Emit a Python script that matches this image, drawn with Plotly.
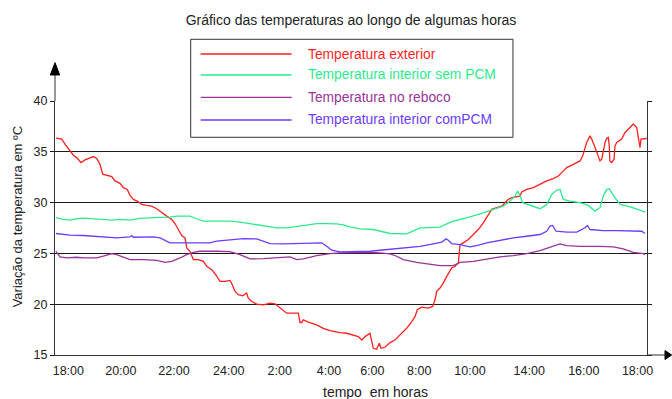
import plotly.graph_objects as go

# Reading position along the time axis (0 = start of record, 100 = end of record)
ext_x = [0.2, 1.13, 1.69, 2.53, 3.09, 3.67, 4.39, 5.07, 5.63, 6.47, 7.04, 7.6, 8.06, 8.73, 9.58,
         10.14, 10.98, 11.54, 12.21, 12.67, 13.23, 13.9, 14.65, 15.49, 16.33, 17.18, 18.02, 18.87,
         19.71, 20.27, 20.83, 21.4, 21.96, 22.13, 22.25, 22.8, 23.36, 24.21, 25.05, 25.63, 26.47,
         27.15, 27.87, 28.72, 29.56, 29.95, 30.41, 30.96, 31.71, 32.38, 32.65, 33.23, 34.07, 35.19,
         36.32, 37.16, 38.01, 39.14, 40.25, 41.1, 41.39, 41.67, 41.94, 42.79, 44.21, 45.32, 46.45,
         47.59, 48.14, 49.27, 50.39, 51.24, 51.81, 52.37, 53.21, 53.5, 53.77, 54.34, 54.78, 55.07,
         55.74, 56.59, 57.43, 58.28, 59.41, 60.26, 60.81, 61.2, 61.94, 63.06, 63.8, 64.19, 64.48,
         65.03, 65.59, 66.17, 67.01, 67.57, 68.13, 68.24, 68.41, 68.97, 69.82, 70.66, 71.5, 72.35,
         73.19, 73.77, 74.61, 75.46, 76.01, 76.57, 77.15, 77.99, 78.55, 78.84, 79.68, 80.8, 81.93,
         83.06, 84.17, 85.02, 85.59, 86.44, 87.55, 88.68, 89.14, 89.81, 90.37, 90.66, 91.22, 91.77,
         92.06, 92.35, 92.62, 92.91, 93.19, 93.46, 93.63, 93.72, 94.04, 94.43, 94.59, 94.88, 95.73,
         96.28, 97.13, 97.69, 98.26, 98.53, 98.82, 98.99, 99.95]
ext_t = [36.34, 36.25, 35.75, 35.09, 34.66, 34.43, 33.94, 34.2, 34.34, 34.53, 34.34, 33.77, 32.79,
         32.69, 32.56, 32.13, 31.9, 31.47, 31.3, 30.71, 30.32, 30.15, 29.82, 29.72, 29.65, 29.4,
         29.0, 28.67, 28.33, 27.94, 27.35, 26.76, 26.53, 26.04, 25.54, 25.21, 24.39, 24.39, 24.22,
         23.73, 23.4, 22.9, 22.24, 22.24, 22.34, 21.92, 21.26, 20.93, 20.83, 21.1, 20.6, 20.27,
         20.01, 19.94, 20.11, 20.04, 19.61, 19.12, 19.12, 19.12, 18.2, 18.2, 18.46, 18.23, 17.96,
         17.63, 17.4, 17.24, 17.2, 17.14, 16.98, 16.81, 16.48, 16.81, 17.14, 16.31, 15.66, 15.56,
         16.16, 15.66, 15.76, 16.22, 16.48, 16.98, 17.63, 18.29, 18.78, 19.45, 19.71, 19.61, 19.78,
         20.43, 21.26, 21.59, 22.08, 22.74, 23.57, 23.73, 24.06, 24.72, 25.87, 26.04, 26.36, 26.86,
         27.35, 28.01, 28.83, 29.33, 29.5, 29.65, 29.99, 30.32, 30.48, 30.58, 30.64, 31.04, 31.3,
         31.47, 31.8, 32.13, 32.36, 32.62, 32.95, 33.45, 33.77, 34.1, 34.6, 35.91, 36.57, 36.25,
         35.42, 34.6, 34.1, 34.27, 35.26, 35.91, 36.31, 36.41, 35.58, 34.1, 33.94, 34.27, 35.58,
         35.91, 36.25, 36.9, 37.39, 37.73, 37.39, 36.57, 35.42, 36.25, 36.31]

sem_x = [0.17, 1.4, 2.53, 3.67, 4.78, 6.47, 8.16, 9.58, 10.98, 12.67, 14.36, 16.05, 17.74, 19.43,
         20.56, 21.67, 22.8, 23.94, 25.05, 27.31, 29.56, 31.25, 32.94, 35.19, 37.45, 39.14, 40.83,
         42.52, 44.21, 45.9, 47.59, 48.7, 49.83, 51.52, 53.77, 56.59, 59.41, 61.66, 65.03, 66.17,
         67.28, 68.97, 70.66, 72.35, 74.04, 75.73, 76.86, 77.7, 78.16, 78.55, 79.0, 80.24, 81.93,
         83.06, 83.9, 84.75, 85.3, 85.86, 86.99, 88.68, 90.08, 91.22, 92.06, 92.62, 93.19, 93.63,
         94.3, 95.44, 97.13, 98.82, 99.66]
sem_t = [28.51, 28.34, 28.27, 28.41, 28.47, 28.41, 28.34, 28.27, 28.34, 28.27, 28.44, 28.51, 28.54,
         28.57, 28.67, 28.67, 28.67, 28.41, 28.18, 28.18, 28.18, 28.08, 27.94, 27.75, 27.52, 27.52,
         27.68, 27.85, 27.94, 27.94, 27.91, 27.81, 27.61, 27.42, 27.35, 26.96, 26.92, 27.52, 27.58,
         27.91, 28.18, 28.41, 28.67, 29.0, 29.33, 29.65, 30.15, 30.64, 31.14, 30.71, 29.99, 29.72,
         29.4, 29.82, 30.81, 31.24, 31.3, 30.32, 30.15, 29.99, 29.72, 29.16, 29.5, 30.64, 31.3,
         31.37, 30.71, 29.82, 29.59, 29.26, 29.06]

reb_x = [0.17, 0.84, 1.98, 3.67, 4.78, 7.04, 8.16, 9.58, 10.42, 11.54, 12.67, 14.92, 17.18, 18.58,
         19.71, 21.11, 22.25, 23.36, 24.49, 27.31, 29.56, 31.25, 32.94, 35.19, 37.45, 39.7, 40.83,
         41.94, 44.21, 46.45, 48.14, 50.39, 52.65, 54.9, 56.59, 57.72, 58.84, 61.1, 63.35, 65.03,
         67.28, 68.41, 70.66, 72.92, 75.17, 77.42, 79.68, 81.93, 83.61, 85.3, 86.44, 88.68, 92.06,
         94.3, 95.99, 97.69, 99.38, 99.66]
reb_t = [25.21, 24.65, 24.55, 24.62, 24.55, 24.55, 24.72, 24.98, 24.88, 24.65, 24.39, 24.39, 24.32,
         24.12, 24.22, 24.55, 24.88, 25.11, 25.21, 25.21, 25.18, 24.88, 24.46, 24.49, 24.59, 24.65,
         24.39, 24.46, 24.78, 24.98, 25.05, 25.11, 25.11, 25.05, 24.95, 24.72, 24.39, 24.12, 23.89,
         23.79, 23.79, 24.12, 24.22, 24.46, 24.65, 24.78, 24.98, 25.28, 25.64, 25.94, 25.77, 25.7,
         25.7, 25.64, 25.44, 25.11, 24.98, 24.88]

com_x = [0.17, 2.53, 4.78, 7.04, 9.29, 10.42, 12.67, 12.96, 13.23, 14.92, 16.61, 17.74, 18.58,
         19.43, 21.67, 23.94, 26.18, 27.31, 29.56, 31.81, 34.07, 35.19, 36.32, 38.57, 40.83, 43.07,
         45.05, 45.9, 46.74, 48.14, 49.83, 50.96, 53.21, 54.9, 57.15, 59.41, 61.66, 63.9, 65.32,
         66.05, 66.44, 67.01, 68.41, 70.1, 71.23, 72.92, 75.17, 77.42, 79.68, 81.93, 83.06, 83.61,
         84.07, 84.63, 86.44, 88.13, 89.53, 89.92, 90.37, 92.62, 94.88, 97.69, 99.1, 99.66]
com_t = [26.96, 26.79, 26.76, 26.69, 26.59, 26.53, 26.63, 26.76, 26.59, 26.59, 26.63, 26.53, 26.3,
         26.04, 26.04, 26.04, 26.04, 26.2, 26.36, 26.46, 26.43, 26.2, 25.97, 25.94, 25.97, 26.04,
         26.04, 25.7, 25.31, 25.15, 25.15, 25.18, 25.21, 25.31, 25.44, 25.6, 25.7, 25.94, 26.1,
         26.43, 26.3, 25.97, 25.87, 25.64, 25.77, 26.04, 26.3, 26.53, 26.69, 26.86, 27.18, 27.68,
         27.75, 27.18, 27.09, 27.09, 27.52, 27.75, 27.35, 27.25, 27.25, 27.18, 27.18, 26.96]

tick_pos = [2.25, 11.12, 20.1, 29.34, 37.96, 46.28, 53.6, 61.52, 70.1, 80.1, 89.32, 98.4]
tick_labels = ["18:00", "20:00", "22:00", "24:00", "2:00", "4:00", "6:00", "8:00", "10:00",
               "14:00", "16:00", "18:00"]
y_ticks = [15, 20, 25, 30, 35, 40]

series_names = ["Temperatura exterior", "Temperatura interior sem PCM",
                "Temperatura no reboco", "Temperatura interior comPCM"]
series_colors = ["#ff1f1f", "#2eea8c", "#993399", "#6a3cff"]
series_data = [(ext_x, ext_t), (sem_x, sem_t), (reb_x, reb_t), (com_x, com_t)]

FONT = "Liberation Sans, Arial, sans-serif"
AXIS = "#333333"
TEXT = "#222222"

fig = go.Figure()
for name, (xs, ys), col in zip(series_names, series_data, series_colors):
    fig.add_trace(go.Scatter(x=xs, y=ys, mode="lines", name=name,
                             line=dict(color=col, width=1.3), hoverinfo="skip"))

fig.update_layout(
    width=672, height=399,
    margin=dict(l=55, r=25, t=101, b=44),
    paper_bgcolor="white", plot_bgcolor="white",
    font=dict(family=FONT, size=12.5, color=TEXT),
    title=dict(text="Gráfico das temperaturas ao longo de algumas horas",
               x=0.5, xref="paper", xanchor="center", y=1 - 20 / 399, yanchor="middle",
               font=dict(family=FONT, size=14, color=TEXT)),
    showlegend=False,
    xaxis=dict(range=[0, 100], showgrid=False, zeroline=False, showline=True,
               linecolor=AXIS, linewidth=1, ticks="", ticklabelstandoff=4,
               tickmode="array", tickvals=tick_pos, ticktext=tick_labels,
               tickfont=dict(size=12.5, color=TEXT)),
    yaxis=dict(range=[15, 40], tickmode="array", tickvals=y_ticks,
               showgrid=True, gridcolor="#1a1a1a", gridwidth=1, zeroline=False,
               showline=True, linecolor=AXIS, linewidth=1, mirror="ticks",
               ticks="outside", ticklen=4, tickcolor="#1a1a1a",
               tickfont=dict(size=12.5, color=TEXT)),
)

# boxed key above the plot: line sample + coloured label per series
fig.add_shape(type="rect", xref="paper", yref="paper", x0=0.2292, x1=0.7736,
              y0=0.8571, y1=1.2429, fillcolor="white", line=dict(color=AXIS, width=1),
              layer="above")
key_rows = [1.185, 1.1024, 1.0146, 0.9252]
for name, col, ky in zip(series_names, series_colors, key_rows):
    fig.add_shape(type="line", xref="paper", yref="paper", x0=0.2461, x1=0.3998,
                  y0=ky, y1=ky, line=dict(color=col, width=1.3), layer="above")
    fig.add_annotation(text=name, xref="paper", yref="paper", x=0.4235, y=ky,
                       xanchor="left", yanchor="middle", showarrow=False,
                       font=dict(family=FONT, size=13.8, color=col))

# axis titles
fig.add_annotation(text="tempo\u00a0 em horas", xref="paper", yref="paper",
                   x=0.542, y=-0.146, xanchor="center", yanchor="middle",
                   showarrow=False, font=dict(family=FONT, size=14, color=TEXT))
fig.add_annotation(text="Variação da temperatura em ºC", xref="paper", yref="paper",
                   x=-0.0637, y=0.547, xanchor="center", yanchor="middle", textangle=-90,
                   showarrow=False, font=dict(family=FONT, size=13, color=TEXT))

# axis extensions with arrow heads
fig.add_shape(type="line", xref="paper", yref="paper", x0=0, x1=0, y0=1, y1=1.11,
              line=dict(color=AXIS, width=1))
fig.add_shape(type="path", xref="paper", yref="paper",
              path="M -0.0079 1.1024 L 0.0079 1.1024 L 0 1.1508 Z",
              fillcolor="#000000", line=dict(color="#000000", width=1))
fig.add_shape(type="line", xref="paper", yref="paper", x0=1, x1=1.035, y0=0, y1=0,
              line=dict(color=AXIS, width=1))
fig.add_shape(type="path", xref="paper", yref="paper",
              path="M 1.0304 -0.0177 L 1.0304 0.0177 L 1.0417 0 Z",
              fillcolor="#000000", line=dict(color="#000000", width=1))

fig.write_html("out.html")
